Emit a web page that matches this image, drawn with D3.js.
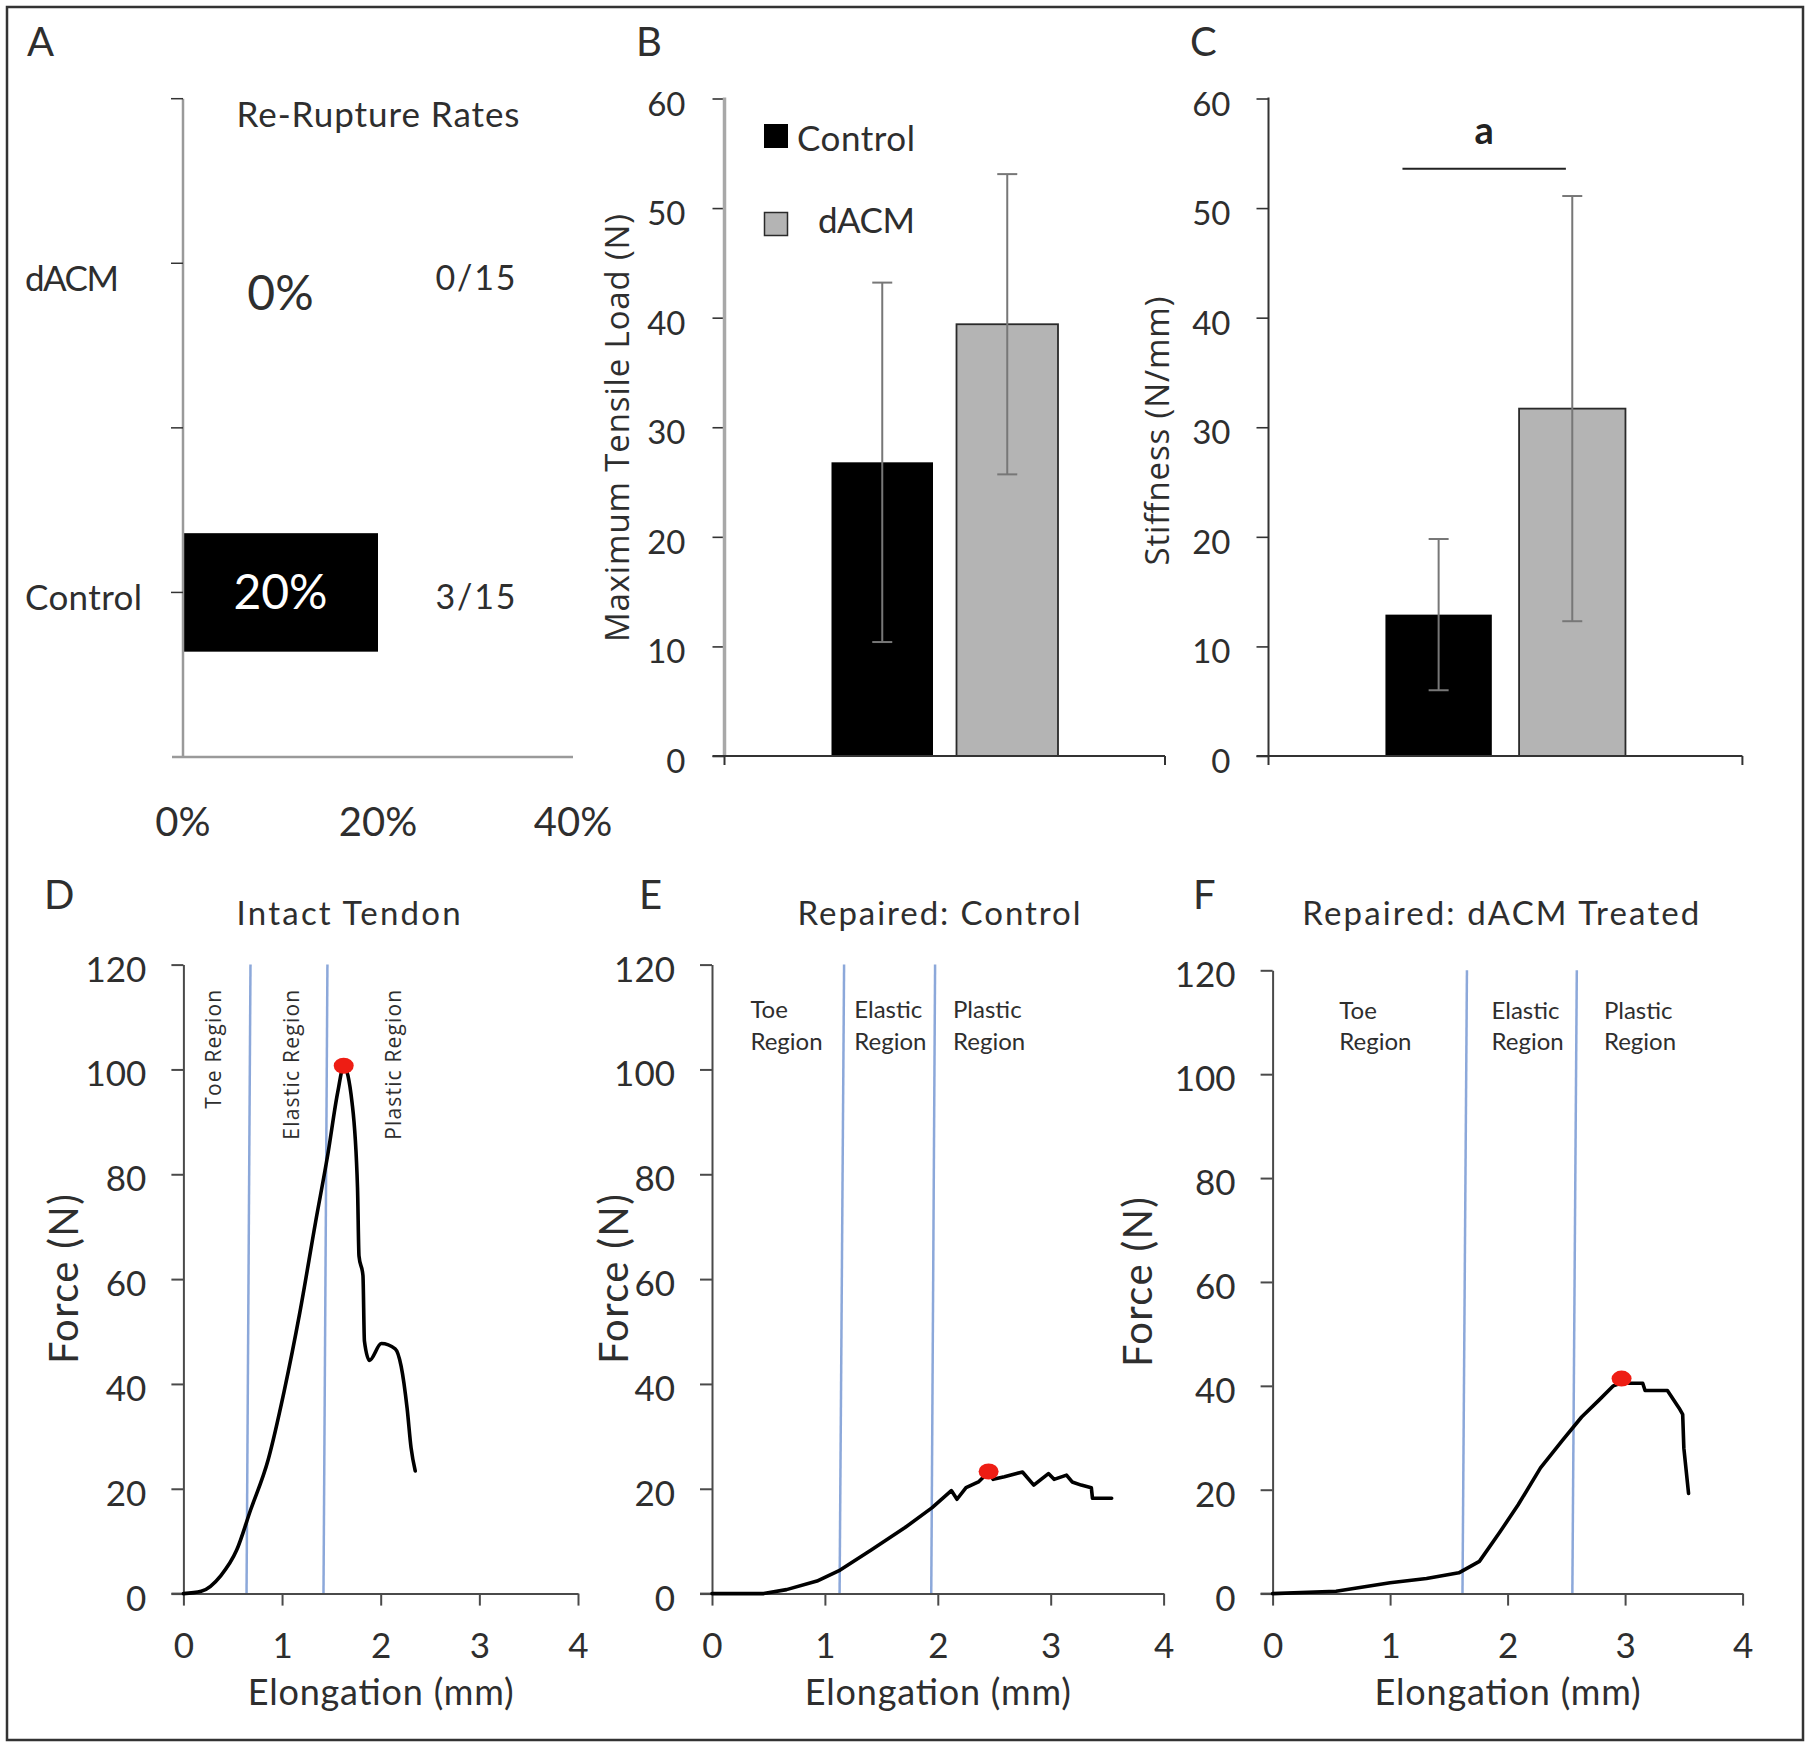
<!DOCTYPE html>
<html><head><meta charset="utf-8">
<script src="https://cdn.jsdelivr.net/npm/d3@7"></script>
<style>
html,body{margin:0;padding:0;background:#fff;}
svg{display:block;}
</style></head><body>
<script>
// ================= DATA =================
// Panel A: re-rupture rates
const ruptureGroups = ["dACM", "Control"];
const ruptureRates = [0, 20];                 // percent
const ruptureCounts = ["0/15", "3/15"];
const ruptureTicks = [0, 20, 40];

// Panels B & C
const groups = ["Control", "dACM"];
const maxLoad = [26.8, 39.4];
const maxLoadSD = [16.4, 13.7];
const stiffness = [12.9, 31.7];
const stiffnessSD = [6.9, 19.4];
const barTicks = [0, 10, 20, 30, 40, 50, 60];
const sigLevel = 53.6;   // significance bar in C (N/mm)

// Panels D-F: force-elongation curves
const forceTicks = [0, 20, 40, 60, 80, 100, 120];
const elongTicks = [0, 1, 2, 3, 4];
const regionNames = ["Toe Region", "Elastic Region", "Plastic Region"];

const intactElong = [0, 0.18, 0.38, 0.54, 0.68, 0.86, 1.02, 1.18, 1.34, 1.465, 1.565, 1.625, 1.71, 1.765, 1.78, 1.82, 1.835, 1.886, 2.007, 2.147, 2.207, 2.268, 2.308, 2.35];
const intactForce = [0, 0.44, 3.45, 8.3, 15.9, 25.6, 38.5, 53.6, 70.9, 83.9, 95.7, 100.6, 93.6, 77.4, 64.4, 60.7, 48.2, 44.5, 47.7, 46.7, 43.4, 35.3, 27.8, 23.4];

const controlElong = [0, 0.458, 0.66, 0.93, 1.135, 1.41, 1.71, 1.95, 2.12, 2.17, 2.25, 2.36, 2.45, 2.49, 2.59, 2.75, 2.85, 2.98, 3.03, 3.14, 3.19, 3.27, 3.36, 3.37, 3.54];
const controlForce = [0, 0, 0.76, 2.4, 4.5, 8.3, 12.6, 16.4, 19.65, 18.0, 20.2, 21.3, 23.2, 21.8, 22.3, 23.2, 20.7, 22.9, 21.8, 22.6, 21.3, 20.7, 20.2, 18.2, 18.2];

const dacmElong = [0, 0.54, 1.0, 1.31, 1.585, 1.76, 1.93, 2.09, 2.28, 2.47, 2.63, 2.78, 2.90, 2.96, 3.15, 3.17, 3.36, 3.46, 3.49, 3.50, 3.54];
const dacmForce = [0, 0.44, 2.1, 2.9, 4.0, 6.2, 11.7, 17.1, 24.2, 29.6, 34.0, 37.3, 40.0, 40.5, 40.5, 39.1, 39.1, 35.7, 34.5, 28.0, 19.3];

const peakElong = [1.625, 2.45, 2.97];
const peakForce = [100.7, 23.3, 41.4];

// region boundaries (elongation at top / bottom of the drawn line)
const boundTopD = [0.68, 1.46],  boundBotD = [0.64, 1.42];
const boundTopE = [1.17, 1.976], boundBotE = [1.13, 1.942];
const boundTopF = [1.654, 2.589], boundBotF = [1.616, 2.551];

// ================= DRAWING =================
const FONT = "Lato, 'Open Sans', sans-serif";
const FONT2 = "'Open Sans', Lato, sans-serif";
const INK = "#2e2e2e";
const svg = d3.select("body").append("svg").attr("width", 1812).attr("height", 1747);

function txt(g, x, y, s, size, o = {}) {
  const t = g.append("text").attr("x", x).attr("y", y).text(s)
    .attr("font-size", size)
    .attr("text-anchor", o.anchor || "start")
    .attr("fill", o.fill || INK)
    .attr("font-family", o.family || FONT)
    .attr("font-weight", o.weight || "normal");
  if (o.len) t.attr("textLength", o.len).attr("lengthAdjust", "spacing");
  if (o.rotate) t.attr("transform", `rotate(-90 ${x} ${y})`);
  return t;
}
function line(g, x1, y1, x2, y2, stroke, w) {
  return g.append("line").attr("x1", x1).attr("y1", y1).attr("x2", x2).attr("y2", y2)
    .attr("stroke", stroke).attr("stroke-width", w);
}

// outer frame
svg.append("rect").attr("x", 7).attr("y", 7).attr("width", 1796).attr("height", 1733)
  .attr("fill", "none").attr("stroke", "#333").attr("stroke-width", 2.5);

// ---------- Panel A ----------
(function () {
  const g = svg.append("g");
  const xA = d3.scaleLinear().domain([0, 40]).range([183, 573]);
  const slots = ["s0", ruptureGroups[0], "s2", ruptureGroups[1], "s4"];
  const yA = d3.scalePoint().domain(slots).range([98.7, 757]);
  // baseline rows for the text labels of each category
  const yLab = d3.scalePoint().domain(slots).range([131, 769]);
  const yVal = d3.scalePoint().domain(slots).range([160.5, 758.5]);
  const bh = yA.step() * 0.72;

  g.selectAll("rect.bar").data(ruptureGroups).enter().append("rect")
    .attr("x", xA(0)).attr("y", d => yA(d) - bh / 2)
    .attr("width", (d, i) => xA(ruptureRates[i]) - xA(0)).attr("height", bh)
    .attr("fill", "#000");

  line(g, xA(0), yA("s0"), xA(0), yA("s4"), "#9a9a9a", 2.5);
  line(g, xA(0) - 11, yA("s4"), xA(40), yA("s4"), "#9a9a9a", 2.5);
  slots.slice(0, 4).forEach(s => line(g, xA(0) - 12, yA(s), xA(0), yA(s), "#333", 1.5));

  txt(g, 27, 56, "A", 40);
  txt(g, xA(20), 127, "Re-Rupture Rates", 35, { anchor: "middle", len: 283 });

  ruptureGroups.forEach((c, i) => {
    txt(g, 25, yLab(c), c, 35, { len: c === "dACM" ? 94 : 117 });
    txt(g, xA(10), yVal(c), ruptureRates[i] + "%", 48,
        { anchor: "middle", fill: ruptureRates[i] > 10 ? "#fff" : INK });
    txt(g, xA(30), yLab(c) - 1, ruptureCounts[i], 34, { anchor: "middle", len: 80 });
  });
  ruptureTicks.forEach(t => txt(g, xA(t), 836, t + "%", 40, { anchor: "middle" }));
})();

// ---------- Panels B & C ----------
function barPanel(cfg) {
  const g = svg.append("g");
  const y = d3.scaleLinear().domain([0, 60]).range([756, 98.5]);
  const x = d3.scaleBand().domain(groups).range([cfg.x0, cfg.x1])
    .paddingInner(cfg.pi).paddingOuter(cfg.po);
  const bw = x.bandwidth();

  g.selectAll("rect.bar").data(groups).enter().append("rect")
    .attr("x", d => x(d)).attr("width", bw)
    .attr("y", (d, i) => y(cfg.values[i]))
    .attr("height", (d, i) => y(0) - y(cfg.values[i]))
    .attr("fill", (d, i) => i === 0 ? "#000" : "#b4b4b4")
    .attr("stroke", (d, i) => i === 0 ? "none" : "#2a2a2a")
    .attr("stroke-width", 1.8);

  groups.forEach((d, i) => {
    const cx = x(d) + bw / 2, v = cfg.values[i], s = cfg.sd[i];
    line(g, cx, y(v + s), cx, y(v - s), "#777", 2);
    line(g, cx - 10, y(v + s), cx + 10, y(v + s), "#777", 2);
    line(g, cx - 10, y(v - s), cx + 10, y(v - s), "#777", 2);
  });

  // y axis
  const ax = g.append("g").attr("transform", `translate(${cfg.x0},0)`)
    .call(d3.axisLeft(y).tickValues(barTicks).tickSize(12).tickPadding(cfg.pad).tickSizeOuter(0));
  ax.select(".domain").remove();
  ax.selectAll(".tick line").attr("stroke", "#333").attr("stroke-width", 1.6);
  ax.selectAll(".tick text").attr("font-size", 33).attr("font-family", FONT)
    .attr("fill", INK).attr("dy", "0.5em");
  line(g, cfg.x0, y(60) - 1, cfg.x0, y(0), cfg.axisColor, cfg.axisW);
  // x axis
  line(g, cfg.x0 - 12, y(0), cfg.x1, y(0), "#333", 2);
  line(g, cfg.x0, y(0), cfg.x0, y(0) + 9, "#333", 2);
  line(g, cfg.x1, y(0), cfg.x1, y(0) + 9, "#333", 2);

  txt(g, cfg.letterX, 56, cfg.letter, 40);
  txt(g, cfg.titleX, cfg.titleY, cfg.title, 33, { anchor: "middle", rotate: true, len: cfg.titleLen, family: FONT2 });
  return { g, x, y, bw };
}

const B = barPanel({ x0: 724.5, x1: 1165, pi: 0.188, po: 0.856, values: maxLoad, sd: maxLoadSD,
  pad: 27, axisColor: "#a8a8a8", axisW: 3.5, letter: "B", letterX: 636,
  title: "Maximum Tensile Load (N)", titleX: 629, titleY: 428, titleLen: 428 });
// legend
B.g.append("rect").attr("x", 764).attr("y", 124).attr("width", 24).attr("height", 24).attr("fill", "#000");
B.g.append("rect").attr("x", 764.5).attr("y", 212.5).attr("width", 23).attr("height", 23)
  .attr("fill", "#b4b4b4").attr("stroke", "#2a2a2a").attr("stroke-width", 1.5);
txt(B.g, 797, 151, groups[0], 35, { len: 118 });
txt(B.g, 818, 233, groups[1], 35, { len: 97 });

const C = barPanel({ x0: 1268.5, x1: 1742.4, pi: 0.204, po: 0.875, values: stiffness, sd: stiffnessSD,
  pad: 26, axisColor: "#333", axisW: 2, letter: "C", letterX: 1190,
  title: "Stiffness (N/mm)", titleX: 1169, titleY: 431, titleLen: 269 });
{
  const x1 = C.x(groups[0]) + C.bw * 0.16, x2 = C.x(groups[1]) + C.bw * 0.44;
  line(C.g, x1, C.y(sigLevel), x2, C.y(sigLevel), "#222", 2);
  txt(C.g, (x1 + x2) / 2, C.y(sigLevel) - 25, "a", 38, { anchor: "middle", weight: "bold", fill: "#222" });
}

// ---------- Panels D, E, F ----------
function curvePanel(cfg) {
  const g = svg.append("g");
  const x = d3.scaleLinear().domain([0, 4]).range([cfg.x0, cfg.x1]);
  const y = d3.scaleLinear().domain([0, 120]).range([1593.6, cfg.yTop]);

  cfg.bTop.forEach((b, i) => line(g, x(b), y(120), x(cfg.bBot[i]), y(0), "#8ca8da", 2.5));

  const ay = g.append("g").attr("transform", `translate(${cfg.x0},0)`)
    .call(d3.axisLeft(y).tickValues(forceTicks).tickSize(12).tickPadding(25).tickSizeOuter(0));
  ay.select(".domain").attr("stroke", "#4a4a4a").attr("stroke-width", 2);
  ay.selectAll(".tick line").attr("stroke", "#4a4a4a").attr("stroke-width", 2);
  ay.selectAll(".tick text").attr("font-size", 35).attr("font-family", FONT).attr("fill", INK).attr("dy", "0.47em");

  const ax = g.append("g").attr("transform", `translate(0,${y(0)})`)
    .call(d3.axisBottom(x).tickValues(elongTicks).tickFormat(d3.format("d"))
      .tickSize(12).tickPadding(28).tickSizeOuter(0));
  ax.select(".domain").attr("stroke", "#4a4a4a").attr("stroke-width", 2);
  ax.selectAll(".tick line").attr("stroke", "#4a4a4a").attr("stroke-width", 2);
  ax.selectAll(".tick text").attr("font-size", 35).attr("font-family", FONT).attr("fill", INK).attr("dy", "0.71em");
  line(g, cfg.x0 - 12, y(0), cfg.x0, y(0), "#4a4a4a", 2);

  const idx = d3.range(cfg.ex.length);
  g.append("path").datum(idx)
    .attr("d", d3.line().x(i => x(cfg.ex[i])).y(i => y(cfg.fy[i])).curve(cfg.curve))
    .attr("fill", "none").attr("stroke", "#000").attr("stroke-width", 3.6)
    .attr("stroke-linejoin", "round").attr("stroke-linecap", "round");

  g.append("ellipse").attr("cx", x(peakElong[cfg.k])).attr("cy", y(peakForce[cfg.k]))
    .attr("rx", 10).attr("ry", 8).attr("fill", "#ee1d14");

  txt(g, cfg.letterX, 909, cfg.letter, 40);
  txt(g, cfg.titleX, 925, cfg.title, 33, { anchor: "middle", len: cfg.titleLen });
  txt(g, (cfg.x0 + cfg.x1) / 2, 1705, "Elongation (mm)", 36, { anchor: "middle", len: 266 });
  txt(g, cfg.forceX, (y(0) + y(120)) / 2, "Force (N)", 40, { anchor: "middle", rotate: true, len: 170 });

  if (cfg.rotLabels) {
    regionNames.forEach((r, i) => {
      txt(g, x(cfg.labX[i]), y(cfg.labY), r, 21,
          { anchor: "end", rotate: true, family: FONT2, len: cfg.labLen[i] });
    });
  } else {
    regionNames.forEach((r, i) => {
      const parts = r.split(" ");
      txt(g, x(cfg.labX[i]), y(cfg.labY), parts[0], 24);
      txt(g, x(cfg.labX[i]), y(cfg.labY) + 31.5, parts[1], 24);
    });
  }
}

curvePanel({ x0: 183.4, x1: 578, yTop: 964.6, ex: intactElong, fy: intactForce, k: 0,
  curve: d3.curveMonotoneX, bTop: boundTopD, bBot: boundBotD,
  letter: "D", letterX: 44, title: "Intact Tendon", titleX: 348.6, titleLen: 224, forceX: 78,
  rotLabels: true, labX: [0.377, 1.172, 2.202], labY: 115.2, labLen: [119, 150, 150] });

curvePanel({ x0: 712, x1: 1163.6, yTop: 964.6, ex: controlElong, fy: controlForce, k: 1,
  curve: d3.curveLinear, bTop: boundTopE, bBot: boundBotE,
  letter: "E", letterX: 639, title: "Repaired: Control", titleX: 939, titleLen: 283, forceX: 628,
  rotLabels: false, labX: [0.34, 1.26, 2.135], labY: 109.8 });

curvePanel({ x0: 1272.6, x1: 1742.6, yTop: 970.3, ex: dacmElong, fy: dacmForce, k: 2,
  curve: d3.curveLinear, bTop: boundTopF, bBot: boundBotF,
  letter: "F", letterX: 1193, title: "Repaired: dACM Treated", titleX: 1500.8, titleLen: 397, forceX: 1152,
  rotLabels: false, labX: [0.568, 1.863, 2.82], labY: 110.7 });
</script>
</body></html>
